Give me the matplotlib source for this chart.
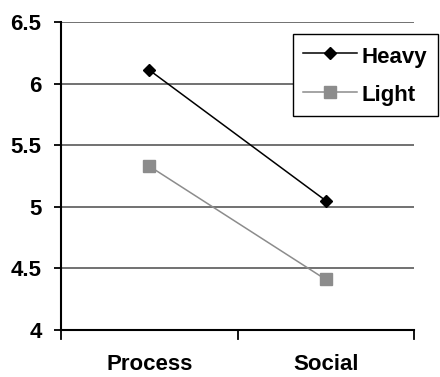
import numpy as np
import matplotlib.pyplot as plt

categories = ['Process', 'Social']
heavy = [6.11, 5.05]
light = [5.33, 4.41]
yticks = [4, 4.5, 5, 5.5, 6, 6.5]
ytick_labels = ['4', '4.5', '5', '5.5', '6', '6.5']

plt.rcParams['font.family'] = ['Liberation Sans', 'DejaVu Sans']
plt.rcParams['font.weight'] = 'bold'

fig = plt.figure(figsize=(4.4, 3.77), dpi=100)
ax = fig.add_axes([61 / 440, 1 - 330 / 377, (414 - 61) / 440, (330 - 22) / 377])

x = np.arange(len(categories))
ax.plot(x, heavy, color='black', lw=1.1, marker='D', ms=6.3, label='Heavy', zorder=3)
ax.plot(x, light, color='#8c8c8c', lw=1.1, marker='s', ms=8.5, mec='#8c8c8c', label='Light', zorder=3)

ax.set_xlim(-0.5, 1.5)
ax.set_ylim(4, 6.5)
ax.set_yticks(yticks)
ax.set_yticklabels(ytick_labels, fontsize=16, fontweight='bold')
# category labels sit between the tick marks
ax.set_xticks([-0.5, 0.5, 1.5])
ax.set_xticklabels([])
ax.set_xticks(x, minor=True)
ax.set_xticklabels(categories, minor=True, fontsize=16, fontweight='bold')
ax.tick_params(axis='x', which='minor', length=0, pad=17)
ax.tick_params(axis='x', which='major', length=0)
ax.tick_params(axis='y', direction='out', length=5, width=1.3, pad=9)

for y in yticks[1:]:
    ax.axhline(y, color='#4a4a4a', lw=1.1, zorder=1)
for s in ['top', 'right']:
    ax.spines[s].set_visible(False)
for s in ['left', 'bottom']:
    ax.spines[s].set_linewidth(1.5)
    ax.spines[s].set_color('black')
# tick marks on bottom axis pointing down
for t in [-0.5, 0.5, 1.5]:
    ax.plot([t, t], [4, 3.93], color='black', lw=1.3, clip_on=False)

leg = ax.legend(loc='upper left', bbox_to_anchor=(293 / 440, 1 - 34 / 377),
                bbox_transform=fig.transFigure, borderaxespad=0, fancybox=False,
                framealpha=1, edgecolor='black', prop={'size': 16, 'weight': 'bold'},
                handlelength=2.45, handletextpad=0.2, borderpad=0.45, labelspacing=0.65,
                handleheight=1.2)
leg.get_frame().set_linewidth(1.0)

fig.savefig('out.png', dpi=100)
